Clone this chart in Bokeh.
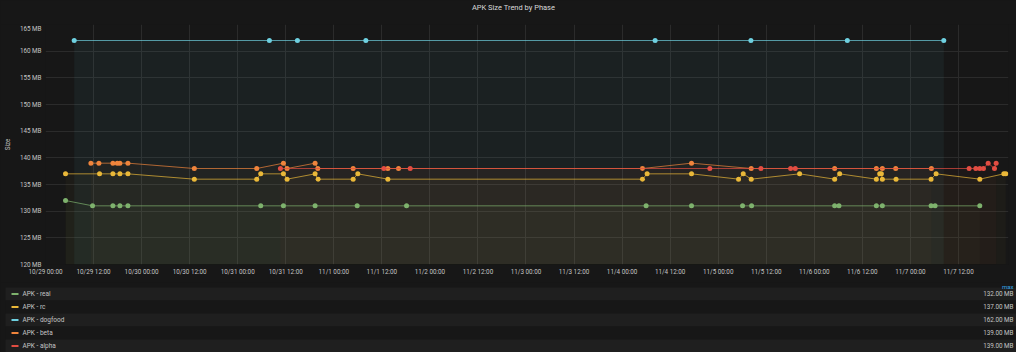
import pandas as pd
from bokeh.plotting import figure
from bokeh.layouts import column
from bokeh.models import Range1d, FixedTicker
from bokeh.core.properties import value
from bokeh.embed import file_html
from bokeh.resources import INLINE

# ---------------- data ----------------
title_text = "APK Size Trend by Phase"
y_axis_title = "Size"
view_start = "10/29 00:00"
view_end = "11/8 00:30"
x_tick_labels = ["10/29 00:00", "10/29 12:00", "10/30 00:00", "10/30 12:00",
                 "10/31 00:00", "10/31 12:00", "11/1 00:00", "11/1 12:00",
                 "11/2 00:00", "11/2 12:00", "11/3 00:00", "11/3 12:00",
                 "11/4 00:00", "11/4 12:00", "11/5 00:00", "11/5 12:00",
                 "11/6 00:00", "11/6 12:00", "11/7 00:00", "11/7 12:00"]
y_tick_values = [120, 125, 130, 135, 140, 145, 150, 155, 160, 165]
y_tick_labels = ["120 MB", "125 MB", "130 MB", "135 MB", "140 MB",
                 "145 MB", "150 MB", "155 MB", "160 MB", "165 MB"]

series_names = ["APK - real", "APK - rc", "APK - dogfood", "APK - beta", "APK - alpha"]
series_colors = ["#7EB26D", "#EAB839", "#6ED0E0", "#EF843C", "#E24D42"]
legend_header = "max"

real_times = ["10/29 05:00", "10/29 11:45", "10/29 16:50", "10/29 18:35", "10/29 20:35",
              "10/31 05:45", "10/31 11:25", "10/31 19:20", "11/1 05:50", "11/1 18:10",
              "11/4 06:00", "11/4 17:20", "11/5 06:05", "11/5 08:20", "11/6 05:05",
              "11/6 06:10", "11/6 15:30", "11/6 17:00", "11/7 05:10", "11/7 06:10",
              "11/7 17:20"]
real_mb = [132, 131, 131, 131, 131, 131, 131, 131, 131, 131,
           131, 131, 131, 131, 131, 131, 131, 131, 131, 131, 131]

rc_times = ["10/29 05:00", "10/29 13:30", "10/29 16:50", "10/29 18:35", "10/29 20:35",
            "10/30 13:10", "10/31 04:45", "10/31 05:45", "10/31 11:25", "10/31 12:20",
            "10/31 19:20", "10/31 20:05", "11/1 04:50", "11/1 06:00", "11/1 13:30",
            "11/4 05:05", "11/4 06:15", "11/4 17:20", "11/5 05:05", "11/5 06:15",
            "11/5 08:15", "11/5 20:20", "11/6 05:05", "11/6 06:20", "11/6 15:30",
            "11/6 16:20", "11/6 16:45", "11/6 17:00", "11/6 20:25", "11/7 05:10",
            "11/7 06:25", "11/7 17:20", "11/7 23:20", "11/7 23:50"]
rc_mb = [137, 137, 137, 137, 137, 136, 136, 137, 137, 136,
         137, 136, 136, 137, 136, 136, 137, 137, 136, 137,
         136, 137, 136, 137, 136, 137, 137, 136, 136, 136,
         137, 136, 137, 137]

dogfood_times = ["10/29 07:10", "10/31 07:55", "10/31 14:55", "11/1 08:00",
                 "11/4 08:15", "11/5 08:10", "11/6 08:15", "11/7 08:20"]
dogfood_mb = [162, 162, 162, 162, 162, 162, 162, 162]

beta_times = ["10/29 11:20", "10/29 13:20", "10/29 16:50", "10/29 17:55", "10/29 18:35",
              "10/29 20:35", "10/30 13:10", "10/31 04:45", "10/31 11:25", "10/31 12:20",
              "10/31 19:20", "10/31 20:00", "11/1 04:50", "11/1 13:30", "11/1 16:10",
              "11/4 05:05", "11/4 17:20", "11/5 08:15", "11/6 05:05", "11/6 15:30",
              "11/6 17:00", "11/6 20:20", "11/7 05:15"]
beta_mb = [139, 139, 139, 139, 139, 139, 138, 138, 139, 138,
           139, 138, 138, 138, 138, 138, 139, 138, 138, 138,
           138, 138, 138]

alpha_times = ["10/31 10:40", "11/1 12:30", "11/1 19:05", "11/4 21:55", "11/5 10:40",
               "11/5 18:05", "11/5 19:15", "11/7 14:40", "11/7 16:20", "11/7 17:20",
               "11/7 18:15", "11/7 19:25", "11/7 21:00", "11/7 21:25"]
alpha_mb = [138, 138, 138, 138, 138, 138, 138, 138, 138, 138, 138, 139, 138, 139]

series_times = [real_times, rc_times, dogfood_times, beta_times, alpha_times]
series_mb = [real_mb, rc_mb, dogfood_mb, beta_mb, alpha_mb]
series_fill_alpha = [0.03, 0.03, 0.06, 0.03, 0.03]

# ---------------- helpers ----------------
T0 = pd.to_datetime("2019/" + view_start, format="%Y/%m/%d %H:%M")


def hours(ts):
    t = pd.to_datetime("2019/" + ts, format="%Y/%m/%d %H:%M")
    return (t - T0).total_seconds() / 3600.0


BG = "#171717"
GRID = "#2b2b2b"
TXT = "#c4c4c4"
FONT = "Roboto"
W = 1016


def blank_fig(h):
    f = figure(width=W, height=h, x_range=Range1d(0, W), y_range=Range1d(h, 0),
               toolbar_location=None, output_backend="svg",
               x_axis_location=None, y_axis_location=None,
               min_border=0, background_fill_color=BG, border_fill_color=BG,
               outline_line_color=None, frame_align=False)
    f.grid.visible = False
    return f


# ---------------- title strip ----------------
TH = 24
head = blank_fig(TH)
head.text(x=[513], y=[7], text=[title_text], text_align="center", text_baseline="middle",
          text_font=value(FONT), text_font_size="7.5px", text_color="#d8d9da")

# ---------------- main chart ----------------
x_tick_values = [hours(l) for l in x_tick_labels]

p = figure(width=W, height=258,
           x_range=Range1d(hours(view_start), hours(view_end)),
           y_range=Range1d(y_tick_values[0], y_tick_values[-1]),
           toolbar_location=None, output_backend="svg",
           min_border_left=40, min_border_right=8,
           min_border_top=0, min_border_bottom=18,
           background_fill_color=BG, border_fill_color=BG,
           outline_line_color=None, frame_align=False)

p.xaxis.ticker = FixedTicker(ticks=x_tick_values)
p.xaxis.major_label_overrides = {v: l for v, l in zip(x_tick_values, x_tick_labels)}
p.yaxis.ticker = FixedTicker(ticks=y_tick_values)
p.yaxis.major_label_overrides = {v: l for v, l in zip(y_tick_values, y_tick_labels)}
for ax in (p.xaxis, p.yaxis):
    ax.axis_line_color = None
    ax.major_tick_line_color = None
    ax.minor_tick_line_color = None
    ax.major_tick_out = 0
    ax.major_tick_in = 0
    ax.major_label_text_color = TXT
    ax.major_label_text_font = FONT
    ax.major_label_text_font_size = "6.3px"
p.xaxis.major_label_standoff = 3
p.yaxis.major_label_standoff = 4
p.yaxis.axis_label = y_axis_title
p.yaxis.axis_label_standoff = 5
p.yaxis.axis_label_text_font = FONT
p.yaxis.axis_label_text_font_size = "6.3px"
p.yaxis.axis_label_text_font_style = "normal"
p.yaxis.axis_label_text_color = TXT
p.xgrid.grid_line_color = GRID
p.ygrid.grid_line_color = GRID
p.xgrid.ticker = FixedTicker(ticks=x_tick_values)
p.ygrid.ticker = FixedTicker(ticks=y_tick_values)

# fills
for ts, mb, c, fa in zip(series_times, series_mb, series_colors, series_fill_alpha):
    xs = [hours(t) for t in ts]
    p.varea(x=xs, y1=mb, y2=[y_tick_values[0]] * len(xs), fill_color=c, fill_alpha=fa)

# lines + points
for ts, mb, c in zip(series_times, series_mb, series_colors):
    xs = [hours(t) for t in ts]
    p.line(xs, mb, line_color=c, line_width=1, line_alpha=0.7)
    p.scatter(xs, mb, size=5, fill_color=c, line_color=None)

# ---------------- legend table ----------------
LH = 70
leg = blank_fig(LH)
n = len(series_names)
row_top = [5 + 13 * i for i in range(n)]
row_mid = [t + 6.5 for t in row_top]
stripe_colors = ["#1f1f1f" if i % 2 == 0 else BG for i in range(n)]
leg.quad(left=5, right=W, top=row_top, bottom=[t + 13 for t in row_top],
         fill_color=stripe_colors, line_color=None)
leg.quad(left=11, right=18, top=[m - 1 for m in row_mid], bottom=[m + 1 for m in row_mid],
         fill_color=series_colors, line_color=None)
leg.text(x=22, y=row_mid, text=series_names, text_baseline="middle",
         text_font=value(FONT), text_font_size="6.5px", text_color=TXT)
max_labels = ["%.2f MB" % max(m) for m in series_mb]
leg.text(x=1013, y=row_mid, text=max_labels, text_align="right", text_baseline="middle",
         text_font=value(FONT), text_font_size="6.3px", text_color=TXT)
leg.text(x=[1013], y=[4], text=[legend_header], text_align="right", text_baseline="middle",
         text_font=value(FONT), text_font_size="6px", text_color="#33a2e5")

layout = column(head, p, leg, spacing=0, styles={"background-color": BG})
open("out.html", "w").write(file_html(layout, INLINE))
